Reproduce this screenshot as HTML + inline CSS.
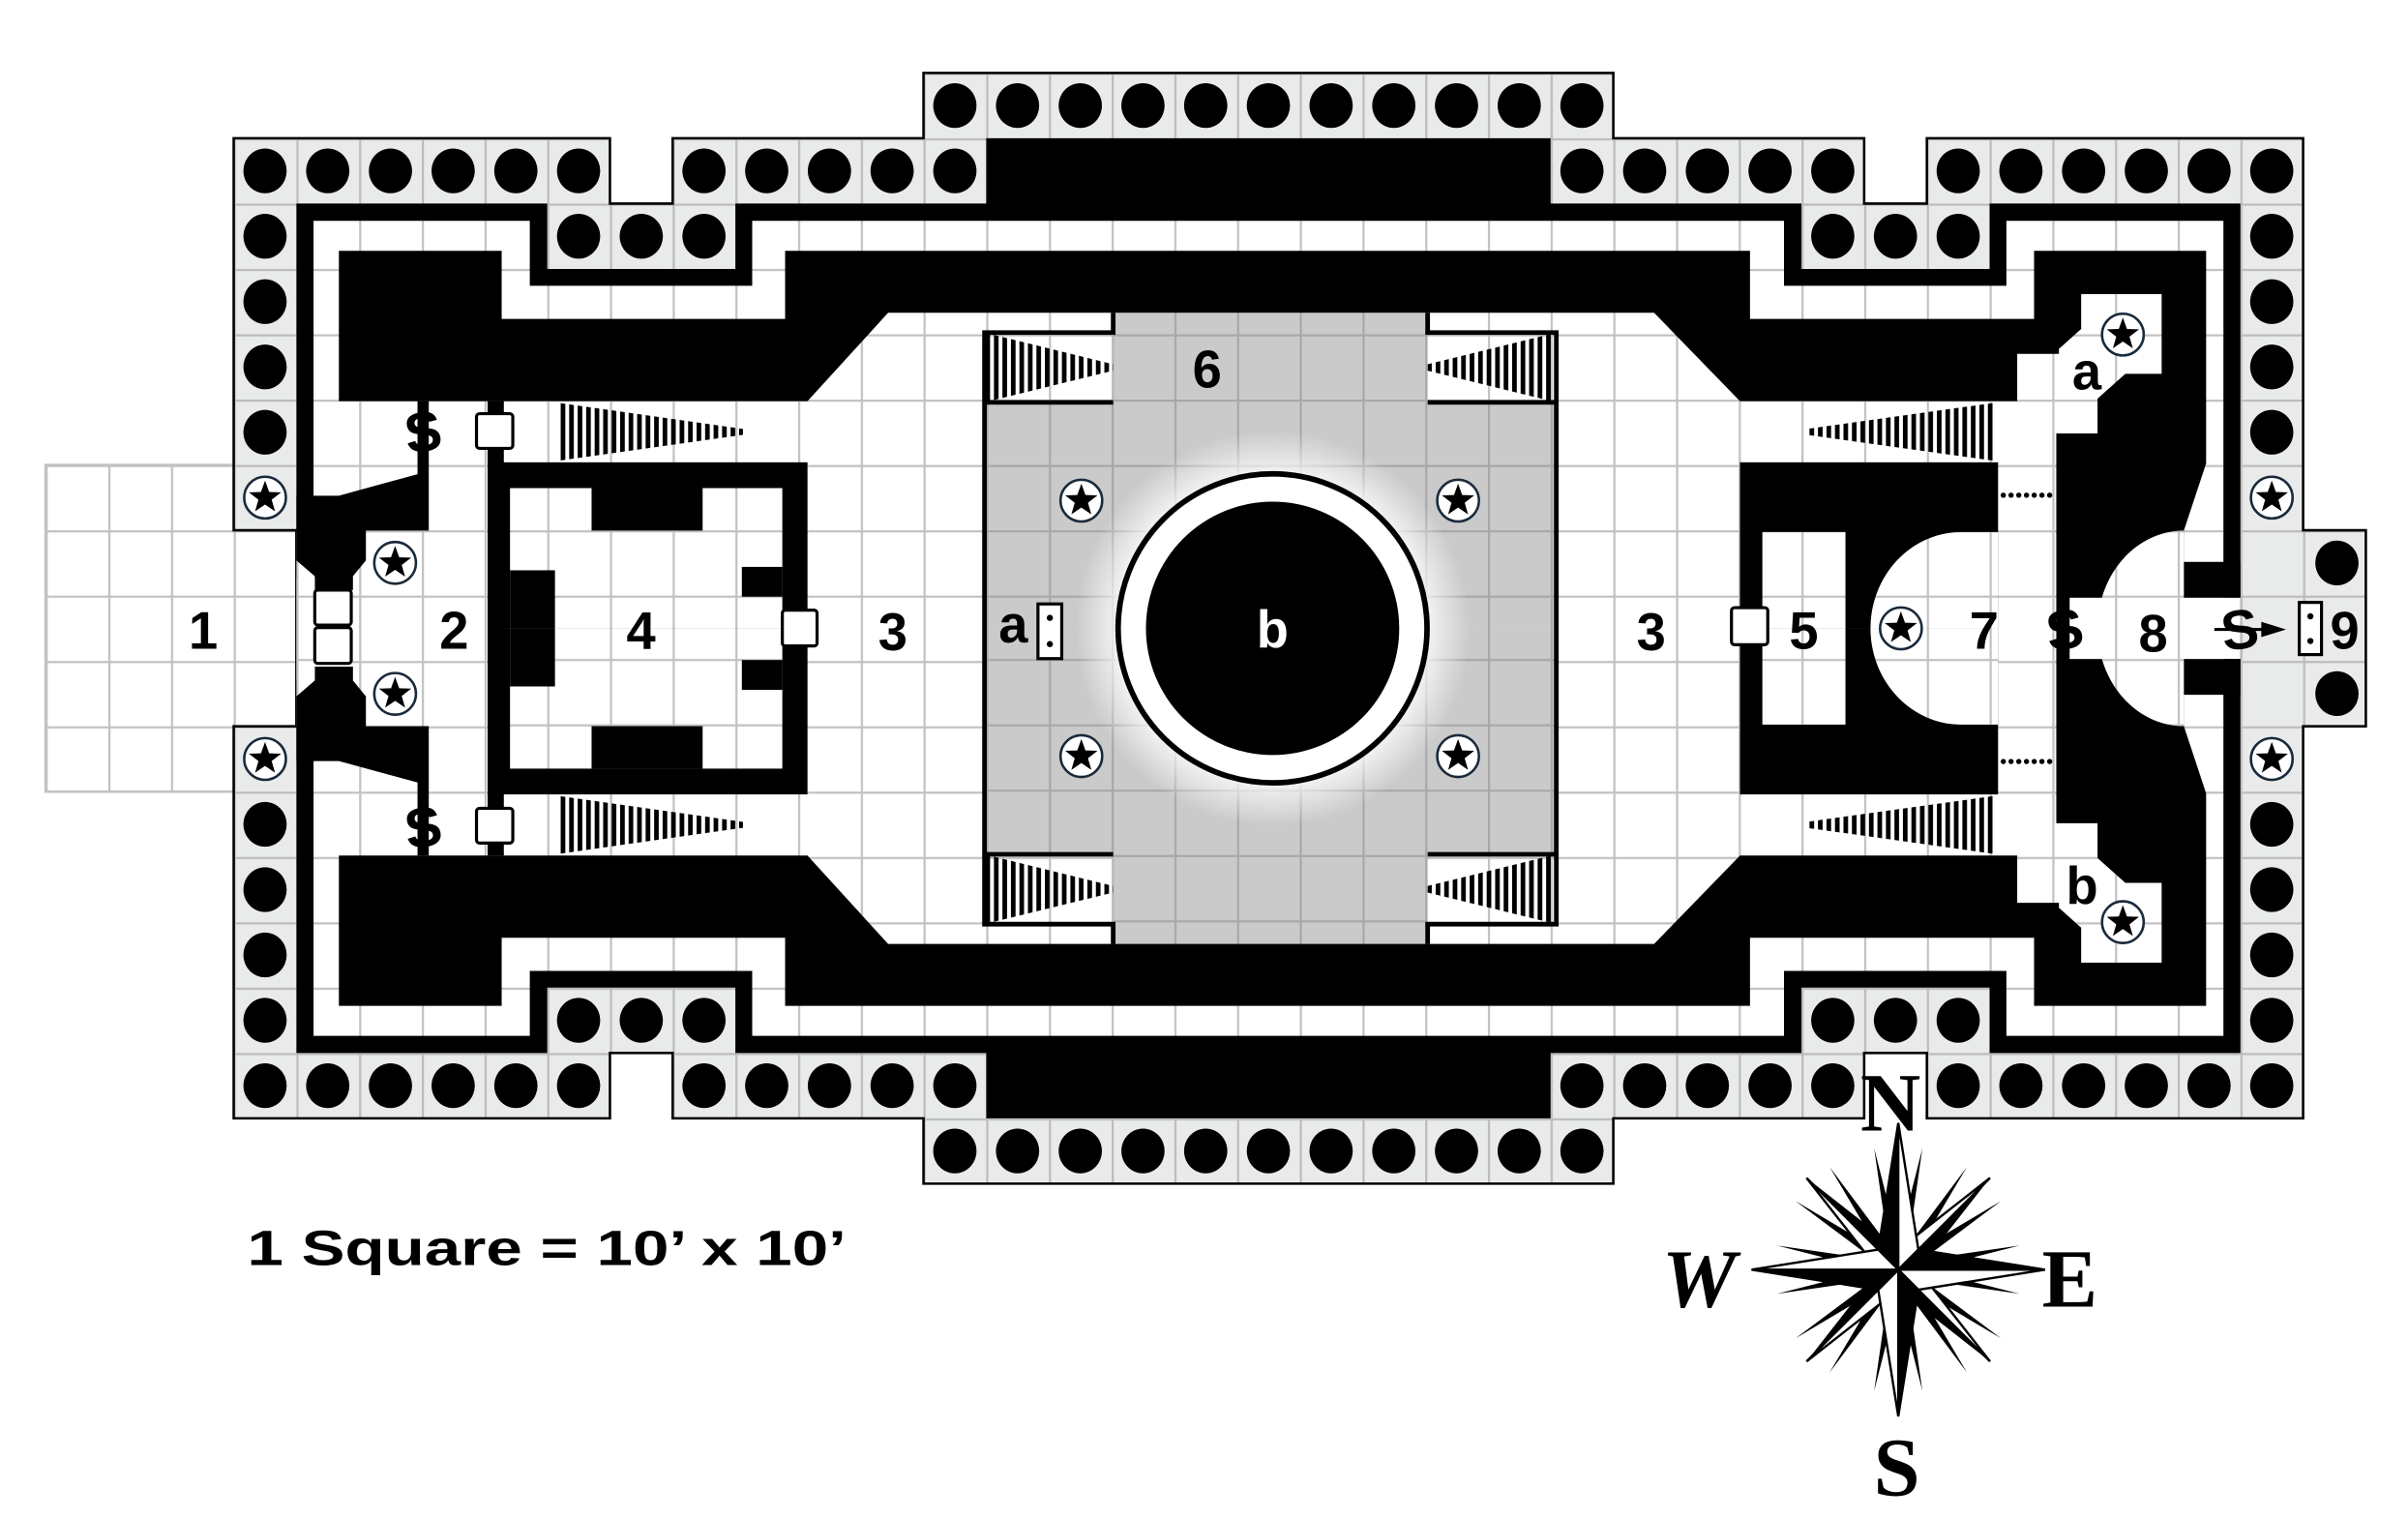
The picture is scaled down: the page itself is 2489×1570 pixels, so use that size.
<!DOCTYPE html>
<html><head><meta charset="utf-8"><style>html,body{margin:0;padding:0;background:#fff}svg{display:block}</style></head>
<body>
<svg xmlns="http://www.w3.org/2000/svg" xmlns:xlink="http://www.w3.org/1999/xlink" width="2489" height="1570" viewBox="0 0 1559 983.4" preserveAspectRatio="none">
<defs>
<pattern id="g" patternUnits="userSpaceOnUse" x="29.5" y="47.2" width="40.6" height="42.3"><rect width="40.6" height="42.3" fill="#fff"/><path d="M0 0.6H40.6M0.6 0V42.3" stroke="#c2c2c2" stroke-width="1.6"/></pattern>
<pattern id="gf" patternUnits="userSpaceOnUse" x="29.5" y="47.2" width="40.6" height="42.3"><rect width="40.6" height="42.3" fill="#e9ebea"/><path d="M0 0.6H40.6M0.6 0V42.3" stroke="#bcbcbc" stroke-width="1.6"/></pattern>
<pattern id="gg" patternUnits="userSpaceOnUse" x="29.5" y="47.2" width="40.6" height="42.3"><rect width="40.6" height="42.3" fill="#cacaca"/><path d="M0 0.6H40.6M0.6 0V42.3" stroke="#a8a8a8" stroke-width="1.6"/></pattern>
<pattern id="st" patternUnits="userSpaceOnUse" x="0" y="0" width="5.5" height="10"><rect width="3" height="10" fill="#000"/></pattern>
<radialGradient id="glow" cx="0.5" cy="0.5" r="0.5"><stop offset="0.72" stop-color="#fff" stop-opacity="1"/><stop offset="1" stop-color="#fff" stop-opacity="0"/></radialGradient>
<ellipse id="p" rx="14" ry="14.5" fill="#000"/>
<g id="star"><circle r="13.5" fill="#fff" stroke="#1a2a3a" stroke-width="1.6"/><polygon fill="#000" points="0,-11 2.65,-3.64 10.46,-3.4 4.28,1.39 6.47,8.9 0,4.5 -6.47,8.9 -4.28,1.39 -10.46,-3.4 -2.65,-3.64"/></g>
<g id="half">
 <rect x="637.4" y="260.5" width="370.2" height="146.3" fill="url(#gg)"/>
 <rect x="720.7" y="202.5" width="203.6" height="204.3" fill="url(#gg)"/>
 <polygon points="637.4,215.3 637.4,260.5 720.7,240 720.7,235.8" fill="url(#st)"/>
 <polygon points="1007.6,215.3 1007.6,260.5 924.3,240 924.3,235.8" fill="url(#st)"/>
 <path d="M637.4 406.8V215.3H720.7V202.5 M637.4 260.5H720.7 M924.3 202.5V215.3H1007.6V406.8 M924.3 260.5H1007.6" stroke="#000" stroke-width="3" fill="none"/>
 <polygon points="361,260.7 361,298.4 481,281.5 481,277.7" fill="url(#st)"/>
 <polygon points="1291.8,260.7 1291.8,298.4 1169.6,281.5 1169.6,277.7" fill="url(#st)"/>
 <polygon fill="#000" points="1316.9,162.4 1428.3,162.4 1428.3,300 1413.9,343.5 1413.9,363.8 1450.5,363.8 1450.5,387 1340,387 1340,406.8 1331.3,406.8 1331.3,280.6 1358,280.6 1358,258.1 1376,242 1399.5,242 1399.5,190.4 1347.4,190.4 1347.4,213 1333,225.9 1333,229.1 1306,229.1 1306,259.7 1126.5,259.7 1070.9,202.5 575,202.5 522.8,259.7 219.4,259.7 219.4,162.4 324.8,162.4 324.8,206.5 508.3,206.5 508.3,162.4 1133,162.4 1133,206.5 1316.9,206.5"/>
 <path d="M1413.9 343.5A55.9 63.3 0 0 0 1358 406.8H1413.9Z" fill="url(#g)"/>
 <rect x="1340" y="387" width="110.5" height="19.8" fill="url(#g)"/>
 <polygon fill="#000" points="191.9,320.9 219.4,320.9 270.3,307 270.3,259.7 277.6,259.7 277.6,343.5 236.9,343.5 236.9,362.8 228.5,373 228.5,382 203.8,382 203.8,373 191.9,362.8"/>
 <rect x="191.9" y="374" width="11.9" height="32.8" fill="url(#g)"/>
 <rect x="315.7" y="259.7" width="10.5" height="147.1" fill="#000"/>
 <rect x="315.7" y="299.3" width="207.1" height="107.5" fill="#000"/>
 <rect x="330.2" y="316" width="176.3" height="90.8" fill="url(#g)"/>
 <rect x="383" y="316" width="71.9" height="27.5" fill="#000"/>
 <rect x="330.2" y="369.2" width="29.1" height="37.6" fill="#000"/>
 <rect x="480.3" y="367" width="26.2" height="19.3" fill="#000"/>
 <rect x="1126.5" y="299.3" width="167.1" height="107.5" fill="#000"/>
 <rect x="1141" y="344.4" width="53.8" height="62.4" fill="url(#g)"/>
 <path d="M1270 344.4A59 62.4 0 0 0 1211 406.8H1293.6V344.4Z" fill="url(#g)"/>
 <g fill="#000"><circle cx="1297" cy="320.6" r="1.7"/><circle cx="1302" cy="320.6" r="1.7"/><circle cx="1307" cy="320.6" r="1.7"/><circle cx="1312" cy="320.6" r="1.7"/><circle cx="1317" cy="320.6" r="1.7"/><circle cx="1322" cy="320.6" r="1.7"/><circle cx="1327" cy="320.6" r="1.7"/></g>
</g>
</defs>

<rect x="29.5" y="301" width="162.4" height="211.5" fill="url(#g)" stroke="#c2c2c2" stroke-width="1.6"/>
<polygon fill="url(#gf)" stroke="#000" stroke-width="1.6" points="151.3,89.5 394.9,89.5 394.9,131.8 435.5,131.8 435.5,89.5 597.9,89.5 597.9,47.2 1044.5,47.2 1044.5,89.5 1206.9,89.5 1206.9,131.8 1247.5,131.8 1247.5,89.5 1491.1,89.5 1491.1,343.3 1531.7,343.3 1531.7,470.2 1491.1,470.2 1491.1,724 1247.5,724 1247.5,681.7 1206.9,681.7 1206.9,724 1044.5,724 1044.5,766.3 597.9,766.3 597.9,724 435.5,724 435.5,681.7 394.9,681.7 394.9,724 151.3,724 151.3,470.2 191.9,470.2 191.9,343.3 151.3,343.3"/>
<polygon fill="#000" points="191.9,131.8 354.3,131.8 354.3,174.1 476.1,174.1 476.1,131.8 1166.3,131.8 1166.3,174.1 1288.1,174.1 1288.1,131.8 1450.5,131.8 1450.5,681.7 1288.1,681.7 1288.1,639.4 1166.3,639.4 1166.3,681.7 476.1,681.7 476.1,639.4 354.3,639.4 354.3,681.7 191.9,681.7"/>
<polygon fill="url(#g)" points="203,143 343,143 343,185 487,185 487,143 1155,143 1155,185 1299,185 1299,143 1439.5,143 1439.5,670.6 1299,670.6 1299,628.6 1155,628.6 1155,670.6 487,670.6 487,628.6 343,628.6 343,670.6 203,670.6"/>
<rect x="191.9" y="343.3" width="11.2" height="126.9" fill="url(#g)"/>
<rect x="638.5" y="89.5" width="365.4" height="50" fill="#000"/>
<rect x="638.5" y="674" width="365.4" height="50" fill="#000"/>

<use xlink:href="#half"/>
<use xlink:href="#half" transform="matrix(1 0 0 -1 0 813.6)"/>

<circle cx="823.9" cy="406.8" r="128" fill="url(#glow)"/>
<circle cx="823.9" cy="406.8" r="100" fill="#fff" stroke="#000" stroke-width="3.6"/>
<circle cx="823.9" cy="406.8" r="82" fill="#000"/>

<g>
<use xlink:href="#p" x="618.2" y="68.35"/><use xlink:href="#p" x="658.8" y="68.35"/><use xlink:href="#p" x="699.4" y="68.35"/><use xlink:href="#p" x="740" y="68.35"/><use xlink:href="#p" x="780.6" y="68.35"/><use xlink:href="#p" x="821.2" y="68.35"/><use xlink:href="#p" x="861.8" y="68.35"/><use xlink:href="#p" x="902.4" y="68.35"/><use xlink:href="#p" x="943" y="68.35"/><use xlink:href="#p" x="983.6" y="68.35"/><use xlink:href="#p" x="1024.2" y="68.35"/>
<use xlink:href="#p" x="618.2" y="745.15"/><use xlink:href="#p" x="658.8" y="745.15"/><use xlink:href="#p" x="699.4" y="745.15"/><use xlink:href="#p" x="740" y="745.15"/><use xlink:href="#p" x="780.6" y="745.15"/><use xlink:href="#p" x="821.2" y="745.15"/><use xlink:href="#p" x="861.8" y="745.15"/><use xlink:href="#p" x="902.4" y="745.15"/><use xlink:href="#p" x="943" y="745.15"/><use xlink:href="#p" x="983.6" y="745.15"/><use xlink:href="#p" x="1024.2" y="745.15"/>
<use xlink:href="#p" x="171.6" y="110.65"/><use xlink:href="#p" x="212.2" y="110.65"/><use xlink:href="#p" x="252.8" y="110.65"/><use xlink:href="#p" x="293.4" y="110.65"/><use xlink:href="#p" x="334" y="110.65"/><use xlink:href="#p" x="374.6" y="110.65"/><use xlink:href="#p" x="455.8" y="110.65"/><use xlink:href="#p" x="496.4" y="110.65"/><use xlink:href="#p" x="537" y="110.65"/><use xlink:href="#p" x="577.6" y="110.65"/><use xlink:href="#p" x="618.2" y="110.65"/><use xlink:href="#p" x="1024.2" y="110.65"/><use xlink:href="#p" x="1064.8" y="110.65"/><use xlink:href="#p" x="1105.4" y="110.65"/><use xlink:href="#p" x="1146" y="110.65"/><use xlink:href="#p" x="1186.6" y="110.65"/><use xlink:href="#p" x="1267.8" y="110.65"/><use xlink:href="#p" x="1308.4" y="110.65"/><use xlink:href="#p" x="1349" y="110.65"/><use xlink:href="#p" x="1389.6" y="110.65"/><use xlink:href="#p" x="1430.2" y="110.65"/><use xlink:href="#p" x="1470.8" y="110.65"/>
<use xlink:href="#p" x="171.6" y="702.85"/><use xlink:href="#p" x="212.2" y="702.85"/><use xlink:href="#p" x="252.8" y="702.85"/><use xlink:href="#p" x="293.4" y="702.85"/><use xlink:href="#p" x="334" y="702.85"/><use xlink:href="#p" x="374.6" y="702.85"/><use xlink:href="#p" x="455.8" y="702.85"/><use xlink:href="#p" x="496.4" y="702.85"/><use xlink:href="#p" x="537" y="702.85"/><use xlink:href="#p" x="577.6" y="702.85"/><use xlink:href="#p" x="618.2" y="702.85"/><use xlink:href="#p" x="1024.2" y="702.85"/><use xlink:href="#p" x="1064.8" y="702.85"/><use xlink:href="#p" x="1105.4" y="702.85"/><use xlink:href="#p" x="1146" y="702.85"/><use xlink:href="#p" x="1186.6" y="702.85"/><use xlink:href="#p" x="1267.8" y="702.85"/><use xlink:href="#p" x="1308.4" y="702.85"/><use xlink:href="#p" x="1349" y="702.85"/><use xlink:href="#p" x="1389.6" y="702.85"/><use xlink:href="#p" x="1430.2" y="702.85"/><use xlink:href="#p" x="1470.8" y="702.85"/>
<use xlink:href="#p" x="171.6" y="152.95"/><use xlink:href="#p" x="374.6" y="152.95"/><use xlink:href="#p" x="415.2" y="152.95"/><use xlink:href="#p" x="455.8" y="152.95"/><use xlink:href="#p" x="1186.6" y="152.95"/><use xlink:href="#p" x="1227.2" y="152.95"/><use xlink:href="#p" x="1267.8" y="152.95"/><use xlink:href="#p" x="1470.8" y="152.95"/>
<use xlink:href="#p" x="171.6" y="660.55"/><use xlink:href="#p" x="374.6" y="660.55"/><use xlink:href="#p" x="415.2" y="660.55"/><use xlink:href="#p" x="455.8" y="660.55"/><use xlink:href="#p" x="1186.6" y="660.55"/><use xlink:href="#p" x="1227.2" y="660.55"/><use xlink:href="#p" x="1267.8" y="660.55"/><use xlink:href="#p" x="1470.8" y="660.55"/>
<use xlink:href="#p" x="171.6" y="195.25"/><use xlink:href="#p" x="171.6" y="237.55"/><use xlink:href="#p" x="171.6" y="279.85"/><use xlink:href="#p" x="171.6" y="533.65"/><use xlink:href="#p" x="171.6" y="575.95"/><use xlink:href="#p" x="171.6" y="618.25"/>
<use xlink:href="#p" x="1470.8" y="195.25"/><use xlink:href="#p" x="1470.8" y="237.55"/><use xlink:href="#p" x="1470.8" y="279.85"/><use xlink:href="#p" x="1470.8" y="533.65"/><use xlink:href="#p" x="1470.8" y="575.95"/><use xlink:href="#p" x="1470.8" y="618.25"/>
<use xlink:href="#p" x="1513" y="364.45"/><use xlink:href="#p" x="1513" y="449.05"/>
</g>
<use xlink:href="#star" transform="translate(171.6,322.15)"/><use xlink:href="#star" transform="translate(171.6,491.35)"/>
<use xlink:href="#star" transform="translate(1470.8,322.15)"/><use xlink:href="#star" transform="translate(1470.8,491.35)"/>
<use xlink:href="#star" transform="translate(255.8,364.4)"/><use xlink:href="#star" transform="translate(255.8,449.2)"/>
<use xlink:href="#star" transform="translate(700.1,324.1)"/><use xlink:href="#star" transform="translate(944,324.1)"/>
<use xlink:href="#star" transform="translate(700.1,489.5)"/><use xlink:href="#star" transform="translate(944,489.5)"/>
<use xlink:href="#star" transform="translate(1230.7,406.8)"/>
<use xlink:href="#star" transform="translate(1374.4,216.6)"/><use xlink:href="#star" transform="translate(1374.4,597)"/>

<g fill="#fff" stroke="#000" stroke-width="2">
<rect x="203.8" y="382" width="23.6" height="22.7" rx="2"/>
<rect x="203.8" y="406.3" width="23.6" height="23.2" rx="2"/>
<rect x="308.5" y="267.8" width="23.5" height="22.5" rx="2"/>
<rect x="308.5" y="523.3" width="23.5" height="22.5" rx="2"/>
<rect x="506.5" y="395" width="22.5" height="23.2" rx="2"/>
<rect x="1121" y="393.4" width="23.5" height="24" rx="2"/>
<rect x="672" y="391" width="15.4" height="35.4"/>
<rect x="1488.6" y="390" width="14.4" height="33.8"/>
</g>
<g fill="#000"><circle cx="679.7" cy="400" r="2"/><circle cx="679.7" cy="417" r="2"/><circle cx="1495.8" cy="399" r="2"/><circle cx="1495.8" cy="415" r="2"/></g>
<path d="M1433.6 407.5H1468" stroke="#000" stroke-width="2"/>
<polygon points="1480,407.5 1464,402.5 1464,412.5" fill="#000"/>

<g font-family="'Liberation Sans', sans-serif" font-weight="bold" font-size="34" text-anchor="middle" fill="#000">
<text x="131.6" y="420">1</text>
<text x="294" y="420">2</text>
<text x="415" y="420">4</text>
<text x="578" y="421">3</text>
<text x="656" y="416">a</text>
<text x="823.9" y="419" fill="#fff">b</text>
<text x="781.5" y="251">6</text>
<text x="1069" y="421">3</text>
<text x="1167.8" y="420">5</text>
<text x="1284.6" y="420">7</text>
<text x="1394" y="422">8</text>
<text x="1518" y="420">9</text>
<text x="1351" y="252">a</text>
<text x="1348" y="585">b</text>
</g>
<g font-family="'Liberation Sans', sans-serif" font-weight="bold" font-size="36" text-anchor="middle" fill="#000">
<text x="273.9" y="292" transform="rotate(-8 273.9 279)">S</text>
<text x="273.9" y="548" transform="rotate(-8 273.9 535)">S</text>
<text x="1336.7" y="420" transform="rotate(-8 1336.7 407)">S</text>
<text x="1450" y="420" transform="rotate(-8 1450 407)">S</text>
</g>
<text x="160" y="819" font-family="'Liberation Sans', sans-serif" font-weight="bold" font-size="32" textLength="388" lengthAdjust="spacingAndGlyphs">1 Square = 10’ x 10’</text>

<g transform="translate(1229,822)">
 <defs>
  <polygon id="thin" points="0,-80 3.5,-14 -3.5,-14" fill="#000"/>
  <g id="dia"><polygon points="0,-84 -9,-10 0,0" fill="#fff" stroke="#000" stroke-width="1.5"/><polygon points="0,-84 9,-10 0,0" fill="#000"/></g>
  <g id="car"><polygon points="0,-95 -13,-13 0,0" fill="#000" stroke="#000" stroke-width="1.5"/><polygon points="0,-95 13,-13 0,0" fill="#fff" stroke="#000" stroke-width="1.5"/></g>
 </defs>
 <use xlink:href="#thin" transform="rotate(11.25)"/><use xlink:href="#thin" transform="rotate(33.75)"/><use xlink:href="#thin" transform="rotate(56.25)"/><use xlink:href="#thin" transform="rotate(78.75)"/>
 <use xlink:href="#thin" transform="rotate(101.25)"/><use xlink:href="#thin" transform="rotate(123.75)"/><use xlink:href="#thin" transform="rotate(146.25)"/><use xlink:href="#thin" transform="rotate(168.75)"/>
 <use xlink:href="#thin" transform="rotate(191.25)"/><use xlink:href="#thin" transform="rotate(213.75)"/><use xlink:href="#thin" transform="rotate(236.25)"/><use xlink:href="#thin" transform="rotate(258.75)"/>
 <use xlink:href="#thin" transform="rotate(281.25)"/><use xlink:href="#thin" transform="rotate(303.75)"/><use xlink:href="#thin" transform="rotate(326.25)"/><use xlink:href="#thin" transform="rotate(348.75)"/>
 <use xlink:href="#dia" transform="rotate(45)"/><use xlink:href="#dia" transform="rotate(135)"/><use xlink:href="#dia" transform="rotate(225)"/><use xlink:href="#dia" transform="rotate(315)"/>
 <use xlink:href="#car"/><use xlink:href="#car" transform="rotate(90)"/><use xlink:href="#car" transform="rotate(180)"/><use xlink:href="#car" transform="rotate(270)"/>
</g>
<g font-family="'Liberation Serif', serif" font-weight="bold" font-size="54" text-anchor="middle" fill="#000">
<text x="1224" y="732">N</text>
<text x="1100" y="846" font-style="italic">W</text>
<text x="1340" y="846">E</text>
<text x="1228" y="968">S</text>
</g>
</svg>
</body></html>
